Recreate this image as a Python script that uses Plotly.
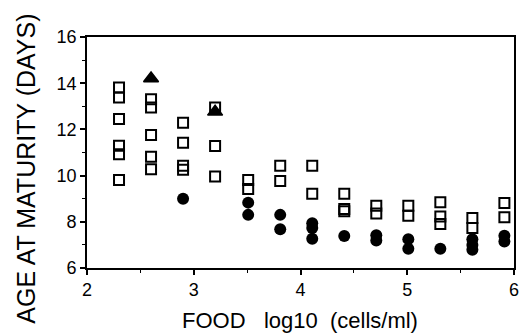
import plotly.graph_objects as go

# food levels (log10 cells/ml) - doubling series
sq_x = [2.30]*6 + [2.60]*5 + [2.90]*4 + [3.20]*3 + [3.51]*2 + [3.81]*2 + [4.11]*2 + [4.41]*3 + [4.71]*2 + [5.01]*2 + [5.31]*3 + [5.61]*2 + [5.91]*2
sq_y = [13.81, 13.38, 12.45, 11.29, 10.92, 9.81,
        13.31, 12.95, 11.76, 10.82, 10.27,
        12.29, 11.42, 10.43, 10.25,
        12.95, 11.28, 9.96,
        9.81, 9.42,
        10.43, 9.77,
        10.43, 9.21,
        9.21, 8.55, 8.46,
        8.70, 8.36,
        8.70, 8.26,
        8.85, 8.23, 7.91,
        8.16, 7.73,
        8.81, 8.20]

ci_x = [2.90] + [3.51]*2 + [3.81]*2 + [4.11]*3 + [4.41] + [4.71]*2 + [5.01]*2 + [5.31] + [5.61]*3 + [5.91]*2
ci_y = [9.00,
        8.83, 8.30,
        8.30, 7.68,
        7.94, 7.73, 7.27,
        7.39,
        7.42, 7.19,
        7.25, 6.83,
        6.83,
        7.25, 7.00, 6.79,
        7.40, 7.15]

tr_x = [2.60, 3.20]
tr_y = [14.20, 12.76]

x_ticks = [2, 3, 4, 5, 6]
y_ticks = [6, 8, 10, 12, 14, 16]

x_title = "FOOD\u00a0\u00a0\u00a0log10\u00a0\u00a0(cells/ml)"
y_title = "AGE AT MATURITY (DAYS)"

fig = go.Figure()
fig.add_trace(go.Scatter(x=sq_x, y=sq_y, mode="markers",
                         marker=dict(symbol="square-open", size=10, color="black",
                                     line=dict(width=2, color="black"))))
fig.add_trace(go.Scatter(x=ci_x, y=ci_y, mode="markers",
                         marker=dict(symbol="circle", size=12, color="black")))
fig.add_trace(go.Scatter(x=tr_x, y=tr_y, mode="markers",
                         marker=dict(symbol="triangle-up", size=13, color="black",
                                     line=dict(width=1.5, color="black"))))

font = "Liberation Sans, Arial, Helvetica, sans-serif"
fig.update_layout(
    width=530, height=336,
    margin=dict(l=87, r=11, t=37, b=68),
    paper_bgcolor="white", plot_bgcolor="white",
    showlegend=False,
    font=dict(family=font, color="black", size=18),
    xaxis=dict(range=[2, 6], tickvals=x_ticks, ticktext=[str(v) for v in x_ticks],
               showgrid=False, zeroline=False,
               showline=True, linecolor="black", linewidth=1.6, mirror=True,
               ticks="outside", ticklen=5, tickwidth=1.5, tickcolor="black",
               minor=dict(dtick=0.5, ticks="outside", ticklen=3, tickwidth=1.2, tickcolor="black"),
               tickfont=dict(size=18)),
    yaxis=dict(range=[6, 16], tickvals=y_ticks, ticktext=[str(v) for v in y_ticks],
               showgrid=False, zeroline=False,
               showline=True, linecolor="black", linewidth=1.6, mirror=True,
               ticks="outside", ticklen=5, tickwidth=1.5, tickcolor="black",
               minor=dict(dtick=1, ticks="outside", ticklen=3, tickwidth=1.2, tickcolor="black"),
               tickfont=dict(size=18)),
    annotations=[
        dict(text=x_title, xref="paper", yref="paper", x=0.498, y=-0.292,
             xanchor="center", yanchor="bottom", showarrow=False, font=dict(size=22)),
        dict(text=y_title, xref="paper", yref="paper", x=-0.1435, y=0.4286,
             xanchor="center", yanchor="middle", textangle=-90, showarrow=False,
             font=dict(size=25)),
    ],
)

fig.write_html("out.html", config={"displayModeBar": False},
               post_script="document.body.style.margin='0';document.body.style.overflow='hidden';")
